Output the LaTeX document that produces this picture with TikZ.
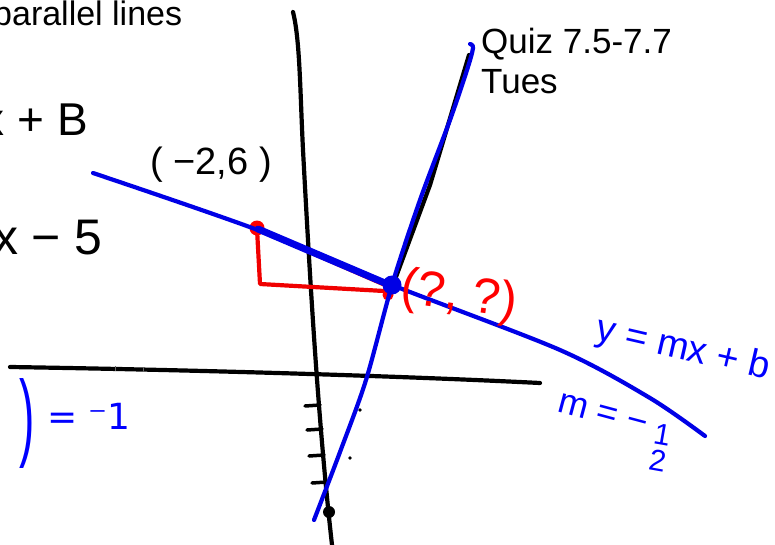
\documentclass[tikz,border=0pt]{standalone}
\usepackage{fontspec}
\setmainfont{Liberation Sans}
\newfontfamily\dejavu{DejaVu Sans}
\begin{document}
\begin{tikzpicture}[x=1pt,y=-1pt,
  pen/.style={line width=4.2pt,line cap=round,line join=round},
  bluepen/.style={pen,draw={rgb,255:red,0;green,0;blue,230}},
  redpen/.style={pen,draw={rgb,255:red,240;green,0;blue,0}},
  blackpen/.style={pen,draw=black},
  typed/.style={font=\fontsize{34}{36}\selectfont,text=black,inner sep=0pt,anchor=west},
  hand/.style={font=\fontsize{36}{38}\selectfont,inner sep=0pt}]
\useasboundingbox (0,0) rectangle (775,545);
\clip (0,0) rectangle (775,545);
\fill[white] (0,0) rectangle (775,545);
% typed text
\node[typed] (title) at (-7,17) {parallel lines};
\node[typed,font=\fontsize{35}{36}\selectfont] (quiz) at (481,44) {Quiz 7.5-7.7};
\node[typed,font=\fontsize{35}{36}\selectfont] (tues) at (481,82) {Tues};
% axes
\draw[blackpen] (293,12) .. controls (300,40) and (300,90) .. (303,150) .. controls (310,280) and (318,420) .. (332,545);
\draw[blackpen] (10,367) .. controls (200,370) and (400,376) .. (540,383);
\foreach \xx/\yy in {115/369,143/370} \draw[black!60,line width=1pt] (\xx,\yy-3) -- (\xx,\yy+2);
\foreach \yy/\xx in {406/318,430/320,456/322,483/325} \draw[blackpen,line width=3.5pt] (\xx-13,\yy) -- (\xx+2,\yy-1);
\fill (360,410) circle (1.8);
\fill (350,458) circle (1.8);
% black steep line
\draw[blackpen] (393,285) -- (430,185) -- (469,55);
\fill (329,512) circle (6);
% red triangle
\draw[redpen] (257,229) -- (260,284) -- (384,291) -- (392,285);
\draw[redpen] (257,229) -- (392,288);
\fill[red] (257,228) circle (7.5);
\fill[red] (388,295) circle (5.5);
% blue lines
\draw[bluepen] plot[smooth] coordinates {(93,173) (255,229) (392,285) (560,350) (650,398) (705,436)};
\draw[bluepen,line width=7pt] (258,229) -- (392,286);
\draw[bluepen] plot[smooth] coordinates {(314,520) (340,452) (366,380) (392,285) (420,200) (450,120) (467,70) (473,48) (470,44)};
\fill[blue!90!black] (392,285) circle (9.5);
% handwritten labels
\node[hand,text=black,font=\fontsize{46}{48}\selectfont,anchor=east] (xb) at (88,120) {x + B};
\node[hand,text=black,font=\fontsize{50}{52}\selectfont,anchor=east] (x5) at (103,238) {x − 5};
\node[hand,text=black,font=\fontsize{38}{40}\selectfont] (pt) at (211,165) {( −2,6 )};
\node[hand,text=red,font=\fontsize{50}{52}\selectfont,rotate=-8] (qq) at (459,297) {(?, ?)};
\node[hand,text=blue,font=\fontsize{38}{40}\selectfont,rotate=-13] (ymx) at (683,350) {y = mx + b};
\node[hand,text=blue,rotate=-15] (mm) at (603,414) {m = −};
\node[hand,text=blue,font=\fontsize{30}{30}\selectfont,rotate=-10,align=center] (half) at (660,448) {1\\[-4pt]2};
\node[hand,text=blue,font=\fontsize{46}{46}\selectfont] (paren) at (27,423) {\scalebox{1}[2.1]{)}};
\node[hand,text=blue,font=\dejavu\fontsize{36}{38}\selectfont] (eq) at (89,416) {= ⁻1};
\end{tikzpicture}
\end{document}
